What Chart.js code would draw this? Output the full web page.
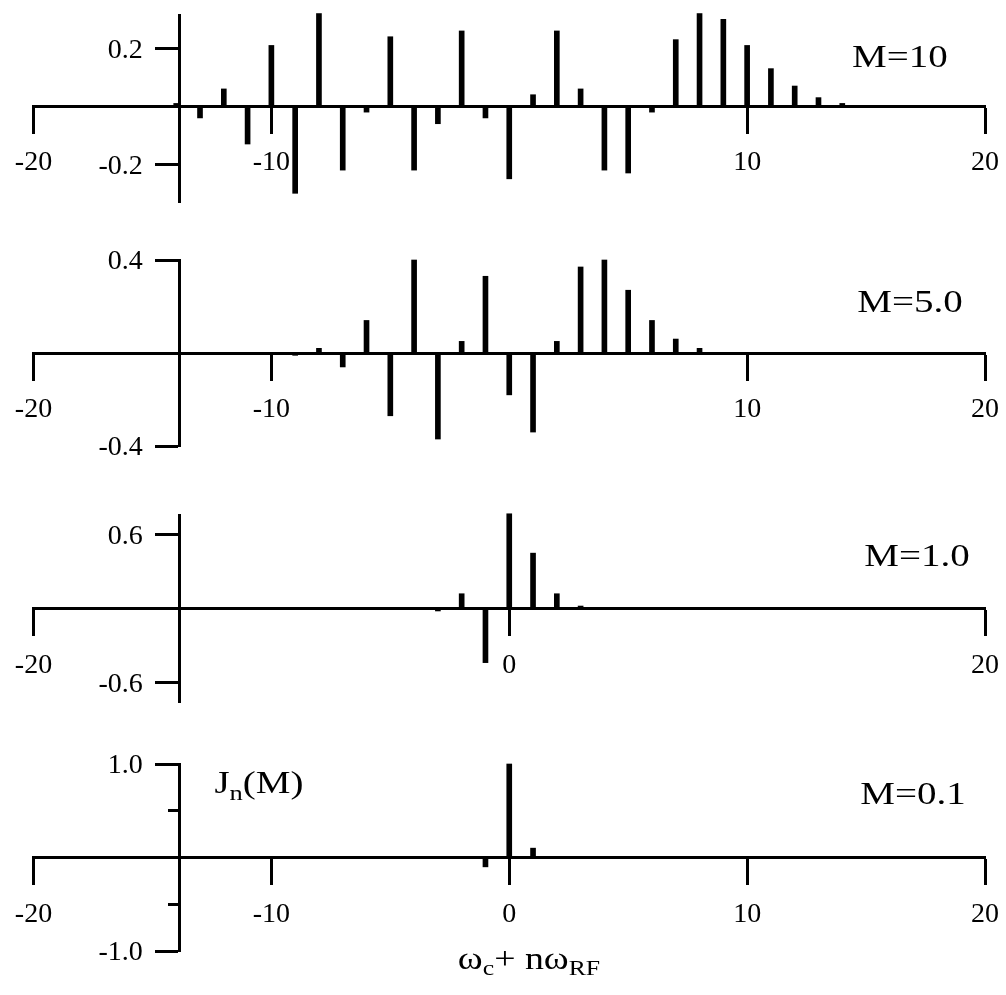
<!DOCTYPE html>
<html>
<head>
<meta charset="utf-8">
<script src="https://cdn.jsdelivr.net/npm/chart.js@4.4.1/dist/chart.umd.min.js"></script>
<style>
  html, body { margin: 0; padding: 0; background: #fff; }
  body { position: relative; width: 1006px; height: 995px; overflow: hidden; }
  canvas { position: absolute; left: 0; }
  .lbl {
    position: absolute;
    font-family: "Liberation Serif", serif;
    color: #000;
    white-space: nowrap;
    line-height: 1;
    transform: translate(-50%, -50%) scaleX(1.22);
  }
  .lbl sub { font-size: 68%; vertical-align: -0.32em; line-height: 0; }
</style>
</head>
<body>
<canvas id="p1"></canvas>
<canvas id="p2"></canvas>
<canvas id="p3"></canvas>
<canvas id="p4"></canvas>

<div class="lbl" style="left:900px; top:56px; font-size:32px">M=10</div>
<div class="lbl" style="left:910px; top:301px; font-size:32px">M=5.0</div>
<div class="lbl" style="left:917px; top:555px; font-size:32px">M=1.0</div>
<div class="lbl" style="left:913px; top:793px; font-size:32px">M=0.1</div>
<div class="lbl" style="left:259px; top:782px; font-size:32px">J<sub>n</sub>(M)</div>
<div class="lbl" style="left:529px; top:958px; font-size:31px">&omega;<sub>c</sub>+ n&omega;<sub>RF</sub></div>

<script>
// harmonic number n
const harmonics = [-14, -13, -12, -11, -10, -9, -8, -7, -6, -5, -4, -3, -2, -1, 0,
                   1, 2, 3, 4, 5, 6, 7, 8, 9, 10, 11, 12, 13, 14];

// J_n(M)
const jM10 = [0.01, -0.04, 0.06, -0.13, 0.21, -0.30, 0.32, -0.22, -0.02, 0.24, -0.22, -0.06, 0.26, -0.04, -0.25,
              0.04, 0.26, 0.06, -0.22, -0.23, -0.02, 0.23, 0.32, 0.30, 0.21, 0.13, 0.07, 0.03, 0.01];
const jM5  = [0, 0, 0, 0, 0, -0.01, 0.02, -0.06, 0.14, -0.27, 0.40, -0.37, 0.05, 0.33, -0.18,
              -0.34, 0.05, 0.37, 0.40, 0.27, 0.14, 0.06, 0.02, 0, 0, 0, 0, 0, 0];
const jM1  = [0, 0, 0, 0, 0, 0, 0, 0, 0, 0, 0, -0.02, 0.12, -0.44, 0.77,
              0.45, 0.12, 0.02, 0, 0, 0, 0, 0, 0, 0, 0, 0, 0, 0];
const jM01 = [0, 0, 0, 0, 0, 0, 0, 0, 0, 0, 0, 0, 0, -0.10, 1.0,
              0.10, 0, 0, 0, 0, 0, 0, 0, 0, 0, 0, 0, 0, 0];

// tick labels
const xTicksM10 = [-20, -10, 10, 20];
const xTicksM5  = [-20, -10, 10, 20];
const xTicksM1  = [-20, 0, 20];
const xTicksM01 = [-20, -10, 0, 10, 20];
const yTicksM10 = [-0.2, 0.2];
const yTicksM5  = [-0.4, 0.4];
const yTicksM1  = [-0.6, 0.6];
const yTicksM01 = [-1.0, 1.0];
const yMinorM01 = [-0.5, 0.5];

const FONT = '"Liberation Serif", "Times New Roman", serif';
Chart.defaults.font.family = FONT;
Chart.defaults.font.size = 28;
Chart.defaults.color = '#000';

const CANVAS_W = 1060;
const PAD = 60;
const Y_AXIS_AT = -13.85;

function setTicks(values) {
  return (scale) => { scale.ticks = values.map(v => ({ value: v })); };
}

// y labels of a centred axis sit on the axis line in Chart.js, so draw them left of the ticks
const yLabels = {
  id: 'yLabels',
  afterDraw(chart) {
    const xs = chart.scales.x, ys = chart.scales.y, ctx = chart.ctx;
    const right = xs.getPixelForValue(Y_AXIS_AT) - 37;
    ctx.save();
    ctx.font = '28px ' + FONT;
    ctx.fillStyle = '#000';
    ctx.textAlign = 'right';
    ctx.textBaseline = 'middle';
    ys.ticks.forEach(t => ctx.fillText(t.value.toFixed(1), right, ys.getPixelForValue(t.value) + 2));
    ctx.restore();
  }
};

function makePanel(id, values, yMin, yMax, xTicks, yTicks, areaTop, areaBottom, minor) {
  const canvas = document.getElementById(id);
  canvas.width = CANVAS_W;
  canvas.height = areaBottom - areaTop + 2 * PAD;
  canvas.style.top = (areaTop - PAD) + 'px';

  const scales = {
    x: {
      type: 'linear',
      min: -20,
      max: 20,
      offset: false,
      position: { y: 0 },
      afterBuildTicks: setTicks(xTicks),
      ticks: { autoSkip: false, maxRotation: 0, padding: 14, callback: v => String(v) },
      grid: { drawOnChartArea: false, drawTicks: true, tickLength: 26, tickWidth: 3, tickColor: '#000', offset: false },
      border: { display: true, width: 3, color: '#000' }
    },
    y: {
      type: 'linear',
      min: yMin,
      max: yMax,
      position: { x: Y_AXIS_AT },
      afterBuildTicks: setTicks(yTicks),
      ticks: { display: false },
      grid: { drawOnChartArea: false, drawTicks: true, tickLength: 23, tickWidth: 3, tickColor: '#000' },
      border: { display: true, width: 3, color: '#000' }
    }
  };
  if (minor) {
    scales.y2 = {
      type: 'linear',
      min: yMin,
      max: yMax,
      position: { x: Y_AXIS_AT },
      afterBuildTicks: setTicks(minor),
      ticks: { display: false },
      grid: { drawOnChartArea: false, drawTicks: true, tickLength: 12, tickWidth: 3, tickColor: '#000' },
      border: { display: false }
    };
  }

  return new Chart(canvas, {
    type: 'bar',
    data: {
      datasets: [{
        data: harmonics.map((n, i) => ({ x: n, y: values[i] })),
        backgroundColor: '#000',
        borderWidth: 0,
        barThickness: 5,
        clip: false
      }]
    },
    options: {
      responsive: false,
      animation: false,
      devicePixelRatio: 1,
      layout: { padding: { left: 33.5, right: CANVAS_W - 985, top: PAD, bottom: PAD } },
      plugins: { legend: { display: false }, tooltip: { enabled: false } },
      scales
    },
    plugins: [yLabels]
  });
}

makePanel('p1', jM10, -0.33, 0.315, xTicksM10, yTicksM10, 15, 202);
makePanel('p2', jM5, -0.4, 0.4, xTicksM5, yTicksM5, 260, 446);
makePanel('p3', jM1, -0.76, 0.76, xTicksM1, yTicksM1, 515, 702);
makePanel('p4', jM01, -1.0, 1.0, xTicksM01, yTicksM01, 764, 951, yMinorM01);
</script>
</body>
</html>
